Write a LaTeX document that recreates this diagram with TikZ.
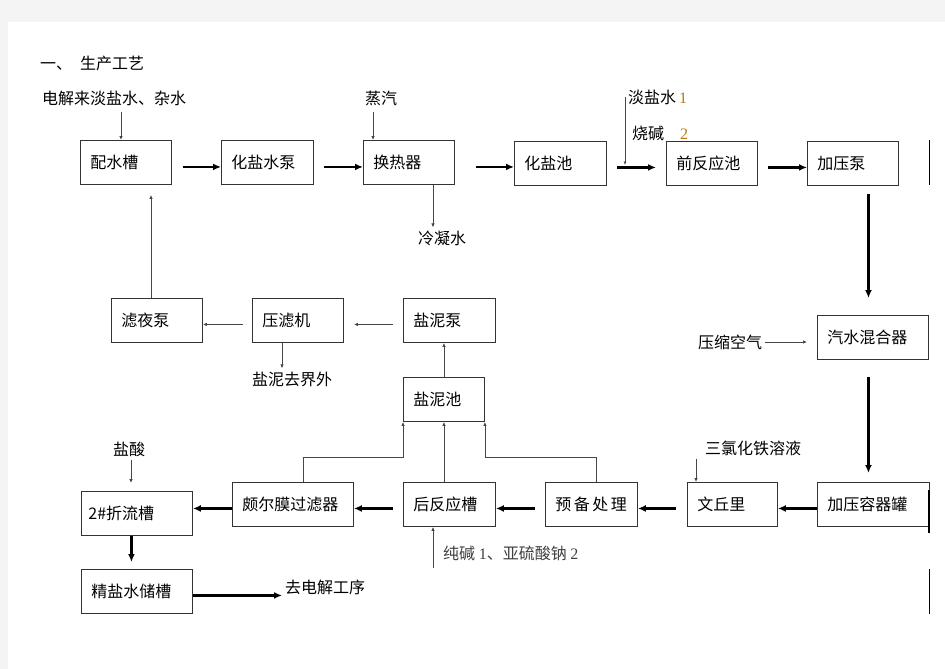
\documentclass[tikz,border=0pt]{standalone}
\usepackage{fontspec}
\setmainfont{Noto Sans CJK SC}
\newfontfamily\numfont{Liberation Serif}
\usepackage{xcolor}
\usepackage{tikz}
\usetikzlibrary{arrows.meta}
\definecolor{pagegray}{RGB}{244, 244, 244}
\definecolor{numorange}{RGB}{190, 120, 20}
\definecolor{linegray}{RGB}{70, 70, 70}

\begin{document}
\begin{tikzpicture}[x=1pt, y=-1pt,
		unitbox/.style={draw=black!80, line width=0.9pt, anchor=north west, minimum height=44pt, inner xsep=10pt, inner ysep=0pt, align=left, text width=#1, font=\fontsize{16pt}{19pt}\selectfont},
		lab/.style={anchor=west, inner sep=0pt, font=\fontsize{16pt}{19pt}\selectfont},
		mainflow/.style={line width=2.4pt, -{Latex[length=8pt,width=7pt]}},
		sideflow/.style={draw=linegray, line width=0.8pt, -{Latex[length=4pt,width=3.5pt]}}]
			\fill[pagegray] (0,0) rectangle (945,669);
			\fill[white] (8,22) rectangle (945,669);
			\useasboundingbox (0,0) rectangle (945,669);
			\node (title) at (40,63) [lab] {一、\hspace{8pt}生产工艺};
			\node (pwc) at (80,140) [unitbox=71pt] {配水槽};
			\node (hyb) at (221,140) [unitbox=72pt] {化盐水泵};
			\node (hrq) at (363,140) [unitbox=71pt] {换热器};
			\node (hyc) at (514,141) [unitbox=72pt] {化盐池};
			\node (qfy) at (666,141) [unitbox=71pt] {前反应池};
			\node (jyb) at (807,141) [unitbox=71pt] {加压泵};
			\node (lyb) at (111,298) [unitbox=71pt] {滤夜泵};
			\node (ylj) at (252,298) [unitbox=71pt] {压滤机};
			\node (ynb) at (403,298) [unitbox=72pt] {盐泥泵};
			\node (ync) at (403,377) [unitbox=61pt] {盐泥池};
			\node (qsh) at (817,315) [unitbox=91pt] {汽水混合器};
			\node (jyr) at (817,482) [unitbox=92pt] {加压容器罐};
			\node (wql) at (687,482) [unitbox=70pt] {文丘里};
			\node (ybc) at (545,482) [unitbox=72pt] {预\hspace{2.5pt}备\hspace{2.5pt}处\hspace{2.5pt}理};
			\node (hfy) at (403,482) [unitbox=72pt] {后反应槽};
			\node (pem) at (232,482) [unitbox=101pt] {颇尔膜过滤器};
			\node (zlc) at (81,491) [unitbox=91pt, inner xsep=7pt, text width=97pt] {2\#折流槽};
			\node (jys) at (81,569) [unitbox=91pt] {精盐水储槽};
			\node (in1) at (42,98) [lab] {电解来淡盐水、杂水};
			\node (in2) at (365,98) [lab] {蒸汽};
			\node (cw) at (418,238) [lab] {冷凝水};
			\node (in3) at (628,97) [lab] {淡盐水\hspace{3pt}{\numfont\color{numorange}1}};
			\node (in4) at (632,133) [lab] {烧碱\hspace{16pt}{\numfont\color{numorange}2}};
			\node (air) at (698,342) [lab] {压缩空气};
			\node (in5) at (705,448) [lab] {三氯化铁溶液};
			\node (in6) at (113,449) [lab] {盐酸};
			\node (in7) at (443,553) [lab, text=black!75] {纯碱 {\numfont 1}、亚硫酸钠 {\numfont 2}};
			\node (mud) at (252,379) [lab] {盐泥去界外};
			\node (out) at (285,587) [lab] {去电解工序};
			\coordinate (na) at (433,568);
			\coordinate (mix) at (625,165);
			\draw[mainflow, shorten <=11pt] ([yshift=-4.5pt]pwc.east) -- ([yshift=-4.5pt]hyb.west);
			\draw[mainflow, shorten <=10pt] ([yshift=-4.5pt]hyb.east) -- ([yshift=-4.5pt]hrq.west);
			\draw[mainflow, shorten <=21pt] ([yshift=-4.5pt]hrq.east) -- ([yshift=-4.5pt]hrq.east -| hyc.west);
			\draw[mainflow, shorten <=10pt, shorten >=10pt] ([yshift=-4pt]hyc.east) -- ([yshift=-4pt]qfy.west);
			\draw[mainflow, shorten <=10pt] ([yshift=-4pt]qfy.east) -- ([yshift=-4pt]jyb.west);
			\draw[mainflow, shorten <=8pt, shorten >=17pt] ([xshift=15.5pt]jyb.south) -- ([xshift=15.5pt]jyb.south |- qsh.north);
			\draw[mainflow, shorten <=17pt, shorten >=9pt] ([xshift=-4.5pt]qsh.south) -- ([xshift=-4.5pt]qsh.south |- jyr.north);
			\draw[mainflow] ([yshift=-4pt]jyr.west) -- ([yshift=-4pt]wql.east);
			\draw[mainflow, shorten <=11pt] ([yshift=-4pt]wql.west) -- ([yshift=-4pt]ybc.east);
			\draw[mainflow, shorten <=10pt] ([yshift=-4pt]ybc.west) -- ([yshift=-4pt]hfy.east);
			\draw[mainflow, shorten <=10pt] ([yshift=-4pt]hfy.west) -- ([yshift=-4pt]pem.east);
			\draw[mainflow] ([yshift=-4pt]pem.west) -- ([yshift=-4pt]pem.west -| zlc.east);
			\draw[mainflow, shorten >=7pt] ([xshift=-5.5pt]zlc.south) -- ([xshift=-5.5pt]jys.north);
			\draw[mainflow, shorten >=3pt] ([yshift=-4pt]jys.east) -- ([yshift=-4pt]jys.east -| out.west);
			\draw[sideflow, shorten <=6pt] ([xshift=41pt]pwc.north west |- in1.south) -- ([xshift=41pt]pwc.north west);
			\draw[sideflow, shorten <=6pt] ([xshift=10pt]hrq.north west |- in2.south) -- ([xshift=10pt]hrq.north west);
			\draw[sideflow, shorten >=3pt] ([xshift=70pt]hrq.south west) -- ([xshift=70pt]hrq.south west |- cw.north);
			\draw[sideflow, -{Latex[length=3.5pt,width=3pt]}] ([xshift=-3pt]in3.west) -- ([xshift=-3pt]in3.west |- mix);
			\draw[sideflow, shorten <=3pt, shorten >=10pt] (air.east) -- (air.east -| qsh.west);
			\draw[sideflow, shorten <=3pt] ([xshift=9pt]wql.north west |- in5.south) -- ([xshift=9pt]wql.north west);
			\draw[sideflow, shorten <=3pt, shorten >=8pt] ([xshift=50pt]zlc.north west |- in6.south) -- ([xshift=50pt]zlc.north west);
			\draw[sideflow] (na) -- (na |- hfy.south);
			\draw[sideflow, shorten >=10pt] ([xshift=40pt]lyb.north west) -- ([xshift=40pt]lyb.north west |- pwc.south);
			\draw[sideflow, shorten <=9pt] ([yshift=-4pt]ylj.west) -- ([yshift=-4pt]lyb.east);
			\draw[sideflow, shorten <=10pt, shorten >=10pt] ([yshift=-4pt]ynb.west) -- ([yshift=-4pt]ylj.east);
			\draw[sideflow, shorten >=3pt] ([xshift=30pt]ylj.south west) -- ([xshift=30pt]ylj.south west |- mud.north);
			\draw[sideflow] (ync.north) -- (ync.north |- ynb.south);
			\draw[sideflow] ([xshift=10.5pt]pem.north) |- ([yshift=-35pt]ync.south west) -- (ync.south west);
			\draw[sideflow] (ync.south |- hfy.north) -- (ync.south);
			\draw[sideflow] ([xshift=5pt]ybc.north) |- ([yshift=-35pt]ync.south east) -- (ync.south east);
			\draw[line width=1pt] (929,140) -- (929,185);
			\draw[line width=1.2pt] (929,490) -- (929,533);
			\draw[line width=1pt] (929,569) -- (929,614);
			\end{tikzpicture}
\end{document}
